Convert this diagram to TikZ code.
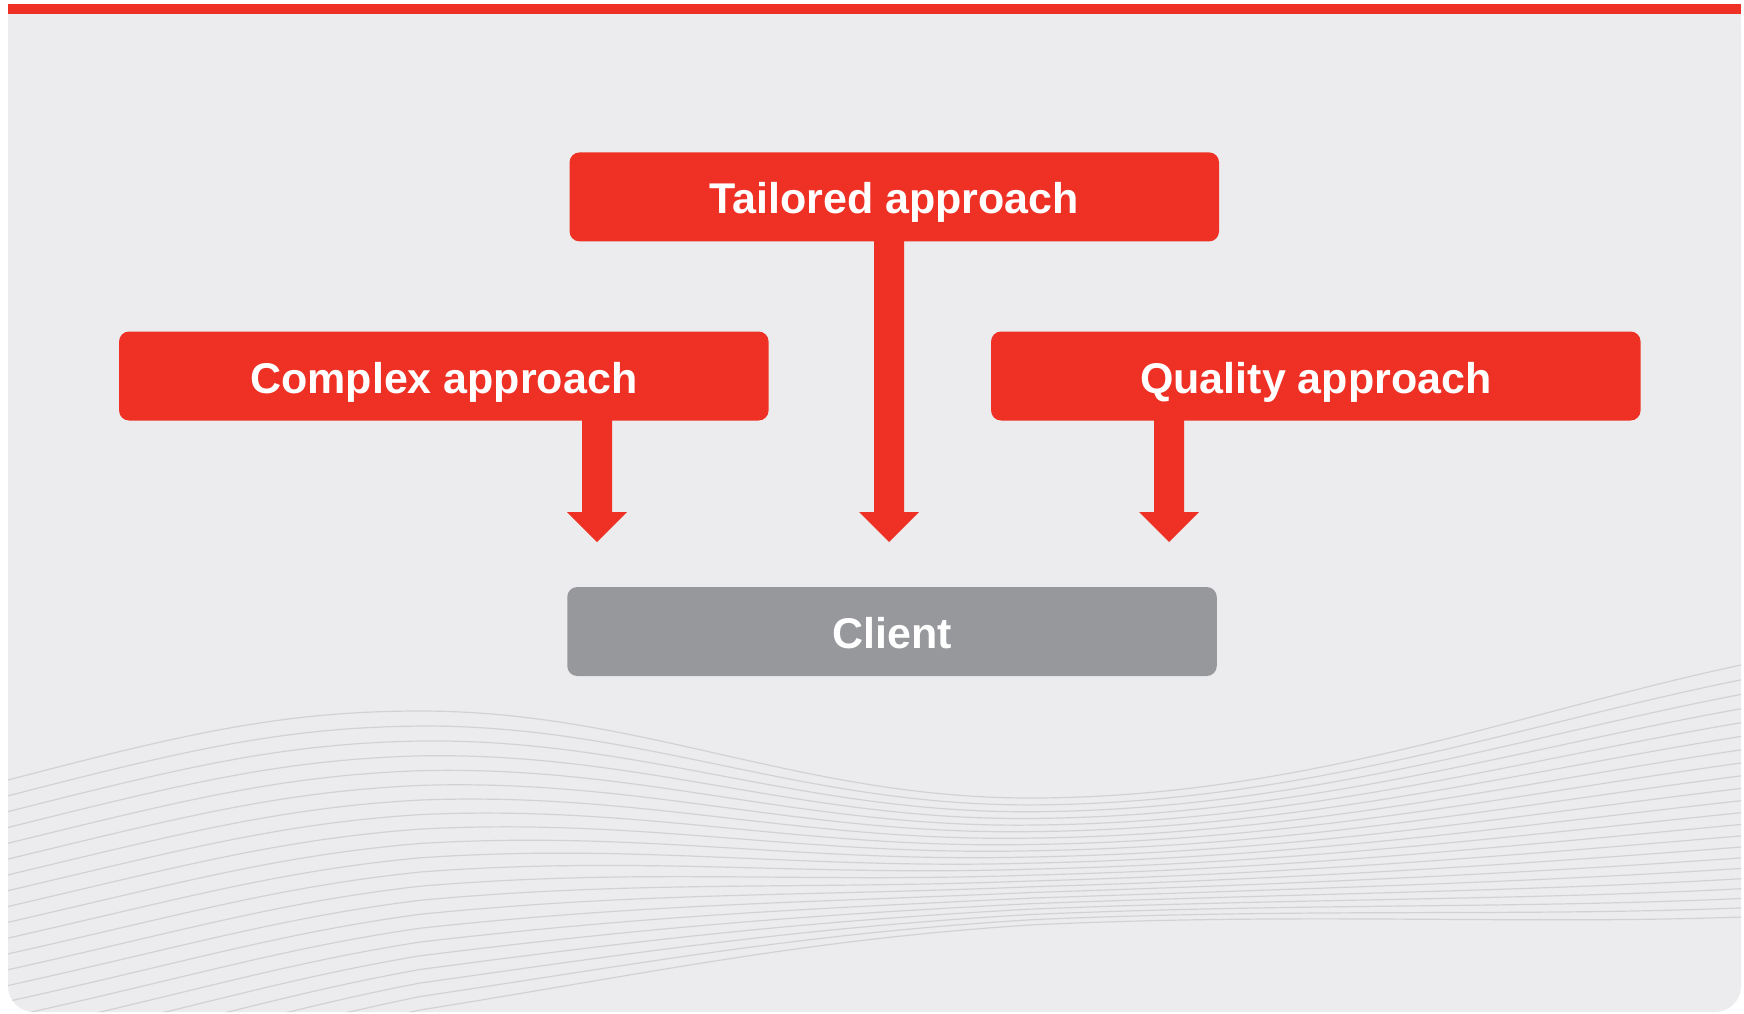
\documentclass[tikz,border=0pt]{standalone}
\usepackage{fontspec}
\setmainfont{Liberation Sans}
\usetikzlibrary{calc}
\definecolor{brandred}{RGB}{238,49,36}
\definecolor{panelbg}{RGB}{236,236,238}
\definecolor{clientgray}{RGB}{151,152,156}
\definecolor{wavegray}{RGB}{210,210,213}
\newcommand\blockarrow[2]{%
  \coordinate (s#2) at (#1.south -| #2);
  \fill[arrowfill] ($(s#2)+(-15,-2)$) -- ($(#2)+(-15,-30)$) -- ($(#2)+(-30,-30)$) -- (#2)
    -- ($(#2)+(30,-30)$) -- ($(#2)+(15,-30)$) -- ($(s#2)+(15,-2)$) -- cycle;}
\begin{document}
\begin{tikzpicture}[x=1pt,y=-1pt,
  declare function={wf(\x,\t)=\t+((1.25*\t-0.25*\t*\t)-\t)*(\x-8)/1733;},
  box/.style={rounded corners=10pt, minimum width=649.5pt, minimum height=89pt,
    inner sep=0pt, text=white, font=\fontsize{43}{50}\selectfont\bfseries,
    text height=34pt, text depth=0pt},
  redbox/.style={box, fill=brandred},
  graybox/.style={box, fill=clientgray},
  arrowfill/.style={fill=brandred},
  wave/.style={draw=wavegray, line width=1.2pt}]
\useasboundingbox (0,0) rectangle (1744,1013);
\fill[white] (0,0) rectangle (1744,1013);
% panel
\fill[panelbg, rounded corners=26pt] (8,4) rectangle (1741,1012);
\fill[panelbg] (8,4) rectangle (1741,60);
% wave lines
\begin{scope}
\clip[rounded corners=26pt] (8,4) rectangle (1741,1012);
\foreach \i in {0,...,21}{
  \pgfmathsetmacro\t{\i/21}
  \pgfmathsetmacro\ya{780+(1112-780)*wf(8,\t)}
  \pgfmathsetmacro\yb{735+(1075-735)*wf(180,\t)}
  \pgfmathsetmacro\yc{711+(1040-711)*wf(280,\t)}
  \pgfmathsetmacro\yd{711+(1010-711)*wf(420,\t)}
  \pgfmathsetmacro\ye{711+(975-711)*wf(640,\t)}
  \pgfmathsetmacro\yf{798+(940-798)*wf(800,\t)}
  \pgfmathsetmacro\yg{798+(925-798)*wf(1030,\t)}
  \pgfmathsetmacro\yh{798+(912-798)*wf(1300,\t)}
  \pgfmathsetmacro\yi{712+(925-712)*wf(1520,\t)}
  \pgfmathsetmacro\yj{665+(917-665)*wf(1741,\t)}
  \draw[wave] (0,\ya) -- (8,\ya) .. controls (180,\yb) and (280,\yc) .. (420,\yd)
    .. controls (640,\ye) and (800,\yf) .. (1030,\yg)
    .. controls (1300,\yh) and (1520,\yi) .. (1741,\yj);
}
\end{scope}
% red top bar
\fill[brandred] (8,4) rectangle (1741,14);
% boxes
\node[redbox] (tailored) at (894.3,196.9) {Tailored approach};
\node[redbox] (complex) at (443.8,376) {Complex approach};
\node[redbox] (quality) at (1315.8,376) {Quality approach};
\node[graybox] (client) at (892,631.5) {Client};
% arrow tips
\coordinate (tipA) at (597,542);
\coordinate (tipB) at (889,542);
\coordinate (tipC) at (1169,542);
\blockarrow{complex}{tipA}
\blockarrow{tailored}{tipB}
\blockarrow{quality}{tipC}
\end{tikzpicture}
\end{document}
